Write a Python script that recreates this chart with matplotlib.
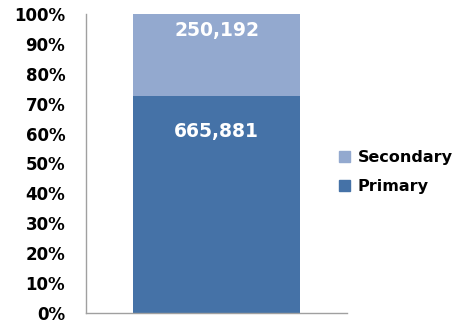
import matplotlib
matplotlib.use("Agg")
import matplotlib.pyplot as plt
from matplotlib.patches import Patch

categories = [""]
series_names = ["Primary", "Secondary"]
primary = [665881]
secondary = [250192]
tick_labels = ["0%", "10%", "20%", "30%", "40%", "50%", "60%", "70%", "80%", "90%", "100%"]

colors = {"Primary": "#4572A7", "Secondary": "#93A9CF"}

fig = plt.figure(figsize=(4.58, 3.26), dpi=100)
ax = fig.add_axes([0.188, 0.040, 0.570, 0.917])

total = [p + s for p, s in zip(primary, secondary)]
p_frac = [p / t for p, t in zip(primary, total)]
s_frac = [s / t for s, t in zip(secondary, total)]

x = [0.5]
ax.bar(x, p_frac, width=0.64, color=colors["Primary"], linewidth=0)
ax.bar(x, s_frac, width=0.64, bottom=p_frac, color=colors["Secondary"], linewidth=0)

for xi, pf, sf, pv, sv in zip(x, p_frac, s_frac, primary, secondary):
    ax.text(xi, pf - 0.12, f"{pv:,}", ha="center", va="center", color="white",
            fontsize=13.5, fontweight="bold")
    ax.text(xi, pf + sf - 0.054, f"{sv:,}", ha="center", va="center", color="white",
            fontsize=13.5, fontweight="bold")

ax.set_xlim(0, 1)
ax.set_ylim(0, 1)
ax.set_yticks([i / 10 for i in range(11)])
ax.set_yticklabels(tick_labels, fontsize=12, fontweight="bold")
ax.set_xticks([])
ax.tick_params(axis="y", length=0, pad=15)
for s in ["top", "right"]:
    ax.spines[s].set_visible(False)
for s in ["left", "bottom"]:
    ax.spines[s].set_color("#A0A0A0")
    ax.spines[s].set_linewidth(1)

handles = [Patch(color=colors["Secondary"], label="Secondary"),
           Patch(color=colors["Primary"], label="Primary")]
fig.legend(handles=handles, loc="center left", bbox_to_anchor=(0.708, 0.472),
           frameon=False, prop={"weight": "bold", "size": 11.5},
           handlelength=0.7, handleheight=0.7, handletextpad=0.5, labelspacing=0.85)

fig.savefig("out.png", dpi=100)
